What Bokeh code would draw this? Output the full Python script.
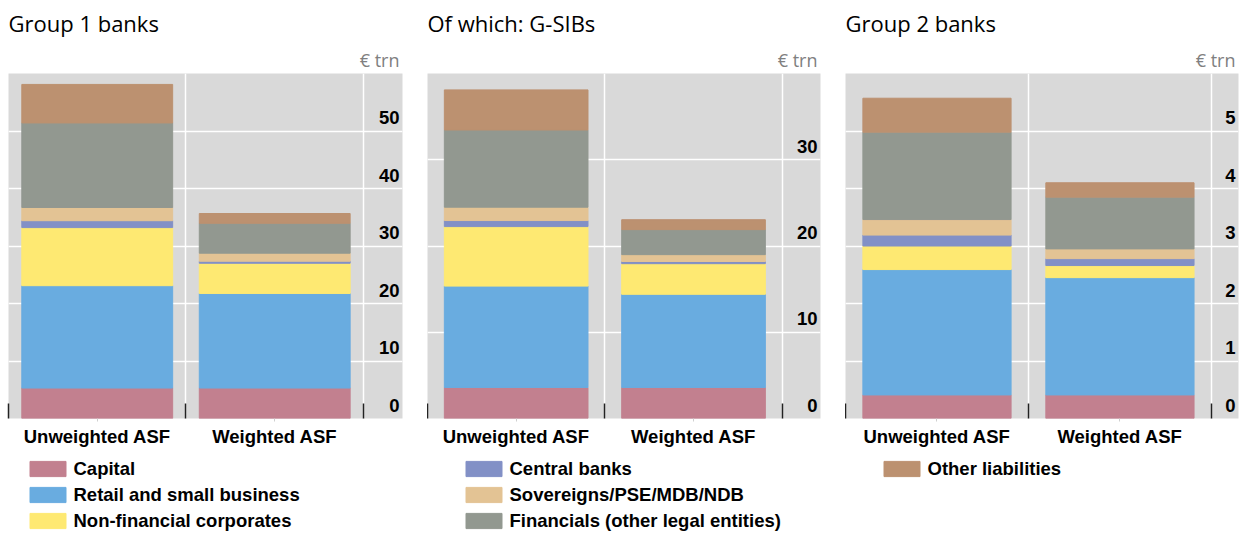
from bokeh.plotting import figure
from bokeh.models import (ColumnDataSource, Range1d, FixedTicker, Grid, LinearAxis,
                          Title, Legend, LegendItem)
from bokeh.layouts import row, column
from bokeh.embed import file_html
from bokeh.resources import INLINE
from bokeh.core.properties import value

# ---------------- data ----------------
categories = ["Unweighted ASF", "Weighted ASF"]
series = ["Capital", "Retail and small business", "Non-financial corporates",
          "Central banks", "Sovereigns/PSE/MDB/NDB",
          "Financials (other legal entities)", "Other liabilities"]
colors = ["#c2808f", "#69ace0", "#fee972", "#8290c6", "#e3c394", "#929890", "#bc9170"]

# Group 1 banks (EUR trn)
g1_capital = [5.3, 5.3]
g1_retail = [17.8, 16.45]
g1_nfc = [10.1, 5.25]
g1_cb = [1.2, 0.35]
g1_sov = [2.3, 1.4]
g1_fin = [14.7, 5.2]
g1_other = [6.7, 1.7]
g1_ticks = [0, 10, 20, 30, 40, 50]
g1_ymax = 60

# Of which: G-SIBs
gsib_capital = [3.6, 3.6]
gsib_retail = [11.75, 10.8]
gsib_nfc = [6.9, 3.55]
gsib_cb = [0.7, 0.25]
gsib_sov = [1.55, 0.8]
gsib_fin = [8.95, 2.9]
gsib_other = [4.65, 1.15]
gsib_ticks = [0, 10, 20, 30]
gsib_ymax = 40

# Group 2 banks
g2_capital = [0.41, 0.41]
g2_retail = [2.18, 2.04]
g2_nfc = [0.41, 0.21]
g2_cb = [0.19, 0.12]
g2_sov = [0.27, 0.17]
g2_fin = [1.52, 0.90]
g2_other = [0.59, 0.25]
g2_ticks = [0, 1, 2, 3, 4, 5]
g2_ymax = 6

LAB_FONT = "Liberation Sans"
TITLE_FONT = "Open Sans"
keys = ["s%d" % i for i in range(len(series))]
LEG_H = 84
ROW_H = 22
ROW_GAP = 4


def make_panel(title, stacks, ticks, ymax, xend, bar_width, frame_w, border_left,
               border_right):
    p = figure(frame_width=frame_w, frame_height=345,
               x_range=Range1d(0, xend), y_range=Range1d(0, ymax),
               output_backend="svg", toolbar_location=None, title=None,
               x_axis_location=None, y_axis_location=None,
               min_border_left=border_left, min_border_right=border_right,
               min_border_top=73, min_border_bottom=30)
    p.background_fill_color = "#d9d9d9"
    p.border_fill_color = "white"
    p.outline_line_color = None
    p.grid.visible = False

    n = len(categories)
    p.add_layout(Grid(dimension=1, ticker=FixedTicker(ticks=ticks),
                      grid_line_color="white", grid_line_width=1.5))
    p.add_layout(Grid(dimension=0, ticker=FixedTicker(ticks=list(range(1, n + 1))),
                      grid_line_color="white", grid_line_width=1.5))

    data = {"x": [i + 0.5 for i in range(n)]}
    for k, vals in zip(keys, stacks):
        data[k] = vals
    src = ColumnDataSource(data)
    p.vbar_stack(keys, x="x", width=bar_width, color=colors, source=src)

    # value labels of the y scale, drawn inside the right strip
    p.text(x=[xend] * len(ticks), y=ticks, text=[str(t) for t in ticks],
           text_align="right", text_baseline="bottom", x_offset=-3, y_offset=-7,
           text_font=value(LAB_FONT), text_font_style="bold",
           text_font_size="18.5px", text_color="black")

    # boundary ticks pointing up into the plot
    bticks = list(range(0, n + 1))
    tick_axis = LinearAxis(ticker=FixedTicker(ticks=bticks),
                           major_label_overrides={t: "" for t in bticks},
                           major_tick_in=15, major_tick_out=0,
                           major_tick_line_color="#222222", major_tick_line_width=1.5,
                           axis_line_color=None, minor_tick_line_color=None,
                           major_label_text_font_size="1px", major_label_standoff=0)
    p.add_layout(tick_axis, "below")
    label_axis = LinearAxis(ticker=FixedTicker(ticks=[i + 0.5 for i in range(n)]),
                            major_label_overrides={i + 0.5: c for i, c in enumerate(categories)},
                            major_tick_in=0, major_tick_out=3,
                            major_tick_line_color="#cfcfcf", axis_line_color=None,
                            minor_tick_line_color=None,
                            major_label_text_font=LAB_FONT,
                            major_label_text_font_style="bold",
                            major_label_text_font_size="18.5px",
                            major_label_text_color="black",
                            major_label_standoff=4)
    p.add_layout(label_axis, "below")

    p.add_layout(Title(text="€ trn", align="right", offset=3, standoff=4,
                       text_font=TITLE_FONT, text_font_size="18px",
                       text_font_style="normal", text_color="#808080"), "above")
    p.add_layout(Title(text=title, align="left", standoff=8, vertical_align="top",
                       text_font=TITLE_FONT, text_font_size="22px",
                       text_font_style="normal", text_color="black"), "above")
    return p


def make_legend(legend_idx, frame_w, border_left, border_right, legend_x, legend_top):
    q = figure(frame_width=frame_w, frame_height=LEG_H,
               x_range=Range1d(0, 1), y_range=Range1d(0, 1),
               output_backend="svg", toolbar_location=None, title=None,
               x_axis_location=None, y_axis_location=None,
               min_border_left=border_left, min_border_right=border_right,
               min_border_top=0, min_border_bottom=0)
    q.background_fill_color = "white"
    q.border_fill_color = "white"
    q.outline_line_color = None
    q.grid.visible = False
    items = []
    for i in legend_idx:
        # zero-height helper bar: only provides the swatch style for the legend
        r = q.vbar(x=[0], bottom=[0], top=[0], width=0, color=colors[i])
        items.append(LegendItem(label=series[i], renderers=[r]))
    leg_h = len(items) * ROW_H + (len(items) - 1) * ROW_GAP
    leg = Legend(items=items, location=(legend_x, LEG_H - legend_top - leg_h),
                 glyph_width=45, glyph_height=19, label_height=ROW_H, spacing=ROW_GAP,
                 label_standoff=4, padding=0, margin=0,
                 border_line_color=None, background_fill_alpha=0,
                 label_text_font=LAB_FONT, label_text_font_style="bold",
                 label_text_font_size="18.5px", label_text_color="black")
    q.add_layout(leg)
    return q


p1 = make_panel("Group 1 banks",
                [g1_capital, g1_retail, g1_nfc, g1_cb, g1_sov, g1_fin, g1_other],
                g1_ticks, g1_ymax, 2.22, 0.85, 394, 8, 25)
p2 = make_panel("Of which: G-SIBs",
                [gsib_capital, gsib_retail, gsib_nfc, gsib_cb, gsib_sov, gsib_fin, gsib_other],
                gsib_ticks, gsib_ymax, 2.216, 0.81, 393, 0, 25)
p3 = make_panel("Group 2 banks",
                [g2_capital, g2_retail, g2_nfc, g2_cb, g2_sov, g2_fin, g2_other],
                g2_ticks, g2_ymax, 2.148, 0.81, 393, 0, 3)

l1 = make_legend([0, 1, 2], 394, 8, 25, 16.5, 8.5)
l2 = make_legend([3, 4, 5], 393, 0, 25, 33.5, 8.5)
l3 = make_legend([6], 393, 0, 3, 33.5, 8.5)

layout = column(row(p1, p2, p3, spacing=0), row(l1, l2, l3, spacing=0), spacing=0)
open("out.html", "w").write(file_html(layout, INLINE))
